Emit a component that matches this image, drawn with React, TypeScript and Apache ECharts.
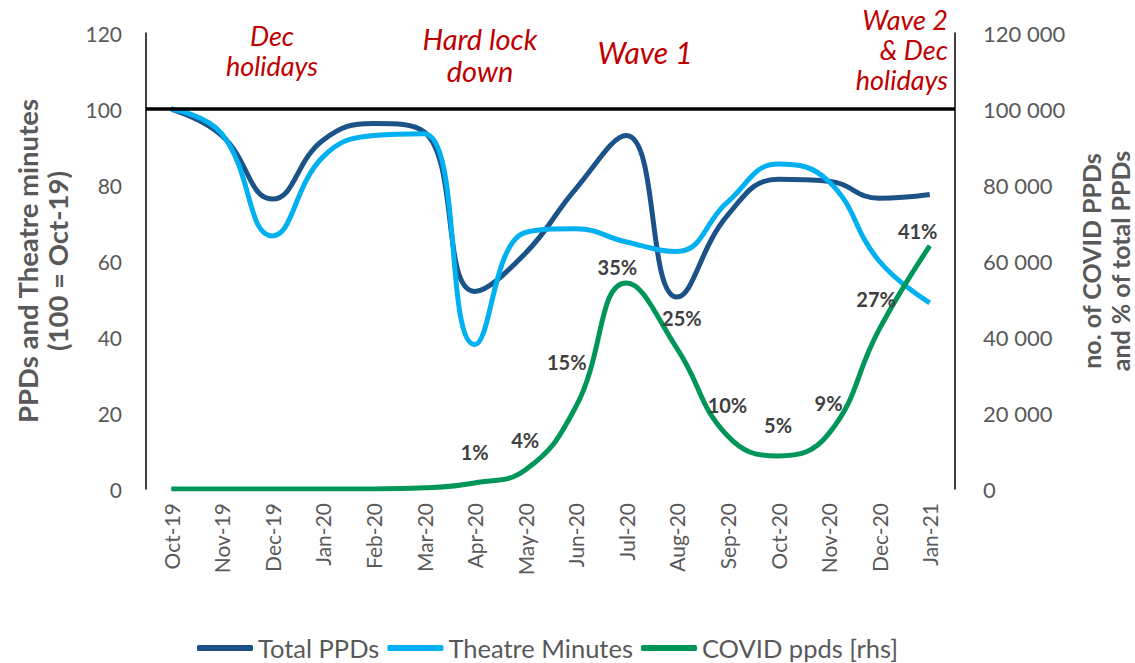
import React, { useEffect, useRef } from "react";
import * as echarts from "echarts";

const categories = [
  "Oct-19", "Nov-19", "Dec-19", "Jan-20", "Feb-20", "Mar-20", "Apr-20", "May-20",
  "Jun-20", "Jul-20", "Aug-20", "Sep-20", "Oct-20", "Nov-20", "Dec-20", "Jan-21",
];
const totalPPDs = [100, 93, 76.3, 91.8, 96.2, 94, 52, 62, 79, 93, 50.5, 72, 81.5, 81, 76.5, 77.5];
const theatreMinutes = [100, 93.5, 66.6, 87.4, 93, 93.5, 38, 67.5, 68.5, 65, 62.5, 75.5, 85.5, 81, 60, 49];
const covidPPDs = [0, 0, 0, 0, 0, 300, 1600, 5000, 21600, 54200, 37000, 14000, 8700, 14500, 42000, 64000];
const covidPct = ["", "", "", "", "", "", "1%", "4%", "15%", "35%", "25%", "10%", "5%", "9%", "27%", "41%"];
const leftTicks = { min: 0, max: 120, interval: 20 };
const rightTicks = { min: 0, max: 120000, interval: 20000 };

const FONT = "Lato, 'Open Sans', sans-serif";
const GREY = "#595959";
const RED = "#C00000";

const labelOffsets: Record<number, [number, number]> = {
  8: [-9, -14],
  9: [-9, 14],
  10: [5, 0],
  14: [-3, 0],
  15: [-12, 16],
};

function fmtThousands(v: number) {
  return String(v).replace(/\B(?=(\d{3})+(?!\d))/g, " ");
}

export default function App() {
  const ref = useRef<HTMLDivElement>(null);
  useEffect(() => {
    if (!ref.current) return;
    const chart = echarts.init(ref.current, null, { renderer: "svg" });
    const covidData = covidPPDs.map((v, i) => {
      const item: any = { value: v };
      if (labelOffsets[i]) item.label = { offset: labelOffsets[i] };
      return item;
    });
    chart.setOption({
      animation: false,
      textStyle: { fontFamily: FONT },
      grid: {
        left: 146,
        right: 180,
        top: 33,
        bottom: 174,
        containLabel: false,
        outerBoundsMode: "none",
      },
      legend: {
        top: 635,
        left: 197,
        padding: 0,
        itemWidth: 56,
        itemHeight: 6,
        itemGap: 8,
        icon: "roundRect",
        textStyle: { color: GREY, fontSize: 25.5, fontFamily: FONT },
        data: ["Total PPDs", "Theatre Minutes", "COVID ppds [rhs]"],
      },
      xAxis: {
        type: "category",
        data: categories,
        boundaryGap: true,
        axisLine: { show: false },
        axisTick: { show: false },
        axisLabel: { rotate: 90, color: GREY, fontSize: 21, margin: 14, fontFamily: FONT },
      },
      yAxis: [
        {
          type: "value",
          ...leftTicks,
          position: "left",
          name: "PPDs and Theatre minutes\n(100 = Oct-19)",
          nameLocation: "middle",
          nameGap: 74,
          nameTextStyle: { color: GREY, fontSize: 27.5, fontWeight: "bold", lineHeight: 30, fontFamily: FONT },
          axisLine: { show: true, lineStyle: { color: "#000", width: 1.5 } },
          axisTick: { show: false },
          splitLine: { show: false },
          axisLabel: { color: GREY, fontSize: 21, margin: 24, fontFamily: FONT },
        },
        {
          type: "value",
          ...rightTicks,
          position: "right",
          name: "no. of COVID PPDs\nand % of total PPDs",
          nameLocation: "middle",
          nameGap: 115,
          nameTextStyle: { color: GREY, fontSize: 25, fontWeight: "bold", lineHeight: 29, fontFamily: FONT },
          axisLine: { show: true, lineStyle: { color: "#000", width: 1.5 } },
          axisTick: { show: false },
          splitLine: { show: false },
          axisLabel: { color: GREY, fontSize: 22, margin: 28, fontFamily: FONT, formatter: fmtThousands },
        },
      ],
      series: [
        {
          name: "Total PPDs",
          type: "line",
          yAxisIndex: 0,
          data: totalPPDs,
          smooth: 0.45,
          symbol: "none",
          lineStyle: { color: "#1B5287", width: 5 },
          itemStyle: { color: "#1B5287" },
          z: 3,
          markLine: {
            silent: true,
            symbol: "none",
            label: { show: false },
            lineStyle: { color: "#000", width: 3.5, type: "solid" },
            data: [{ yAxis: 100 }],
          },
        },
        {
          name: "Theatre Minutes",
          type: "line",
          yAxisIndex: 0,
          data: theatreMinutes,
          smooth: 0.45,
          symbol: "none",
          lineStyle: { color: "#00B0F0", width: 5 },
          itemStyle: { color: "#00B0F0" },
          z: 4,
        },
        {
          name: "COVID ppds [rhs]",
          type: "line",
          yAxisIndex: 1,
          data: covidData,
          smooth: 0.45,
          symbol: "circle",
          symbolSize: 1,
          showSymbol: true,
          lineStyle: { color: "#00965A", width: 5 },
          itemStyle: { color: "#00965A" },
          z: 5,
          label: {
            show: true,
            position: "top",
            distance: 20,
            color: "#404040",
            fontSize: 20,
            fontWeight: "bold",
            fontFamily: FONT,
            formatter: (p: any) => covidPct[p.dataIndex],
          },
        },
      ],
      graphic: [
        {
          type: "text",
          x: 272,
          y: 20,
          style: {
            text: "Dec\nholidays",
            font: `italic 27px ${FONT}`,
            fill: RED,
            align: "center",
            verticalAlign: "top",
            lineHeight: 30,
          },
        },
        {
          type: "text",
          x: 480,
          y: 22,
          style: {
            text: "Hard lock\ndown",
            font: `italic 29px ${FONT}`,
            fill: RED,
            align: "center",
            verticalAlign: "top",
            lineHeight: 32,
          },
        },
        {
          type: "text",
          x: 645,
          y: 37,
          style: {
            text: "Wave 1",
            font: `italic 30px ${FONT}`,
            fill: RED,
            align: "center",
            verticalAlign: "top",
          },
        },
        {
          type: "text",
          x: 948,
          y: 4,
          style: {
            text: "Wave 2\n& Dec\nholidays",
            font: `italic 27px ${FONT}`,
            fill: RED,
            align: "right",
            verticalAlign: "top",
            lineHeight: 30,
          },
        },
      ],
    });
    return () => chart.dispose();
  }, []);
  return (
    <div
      ref={ref}
      style={{ position: "absolute", left: 0, top: 0, width: 1135, height: 663 }}
    />
  );
}
